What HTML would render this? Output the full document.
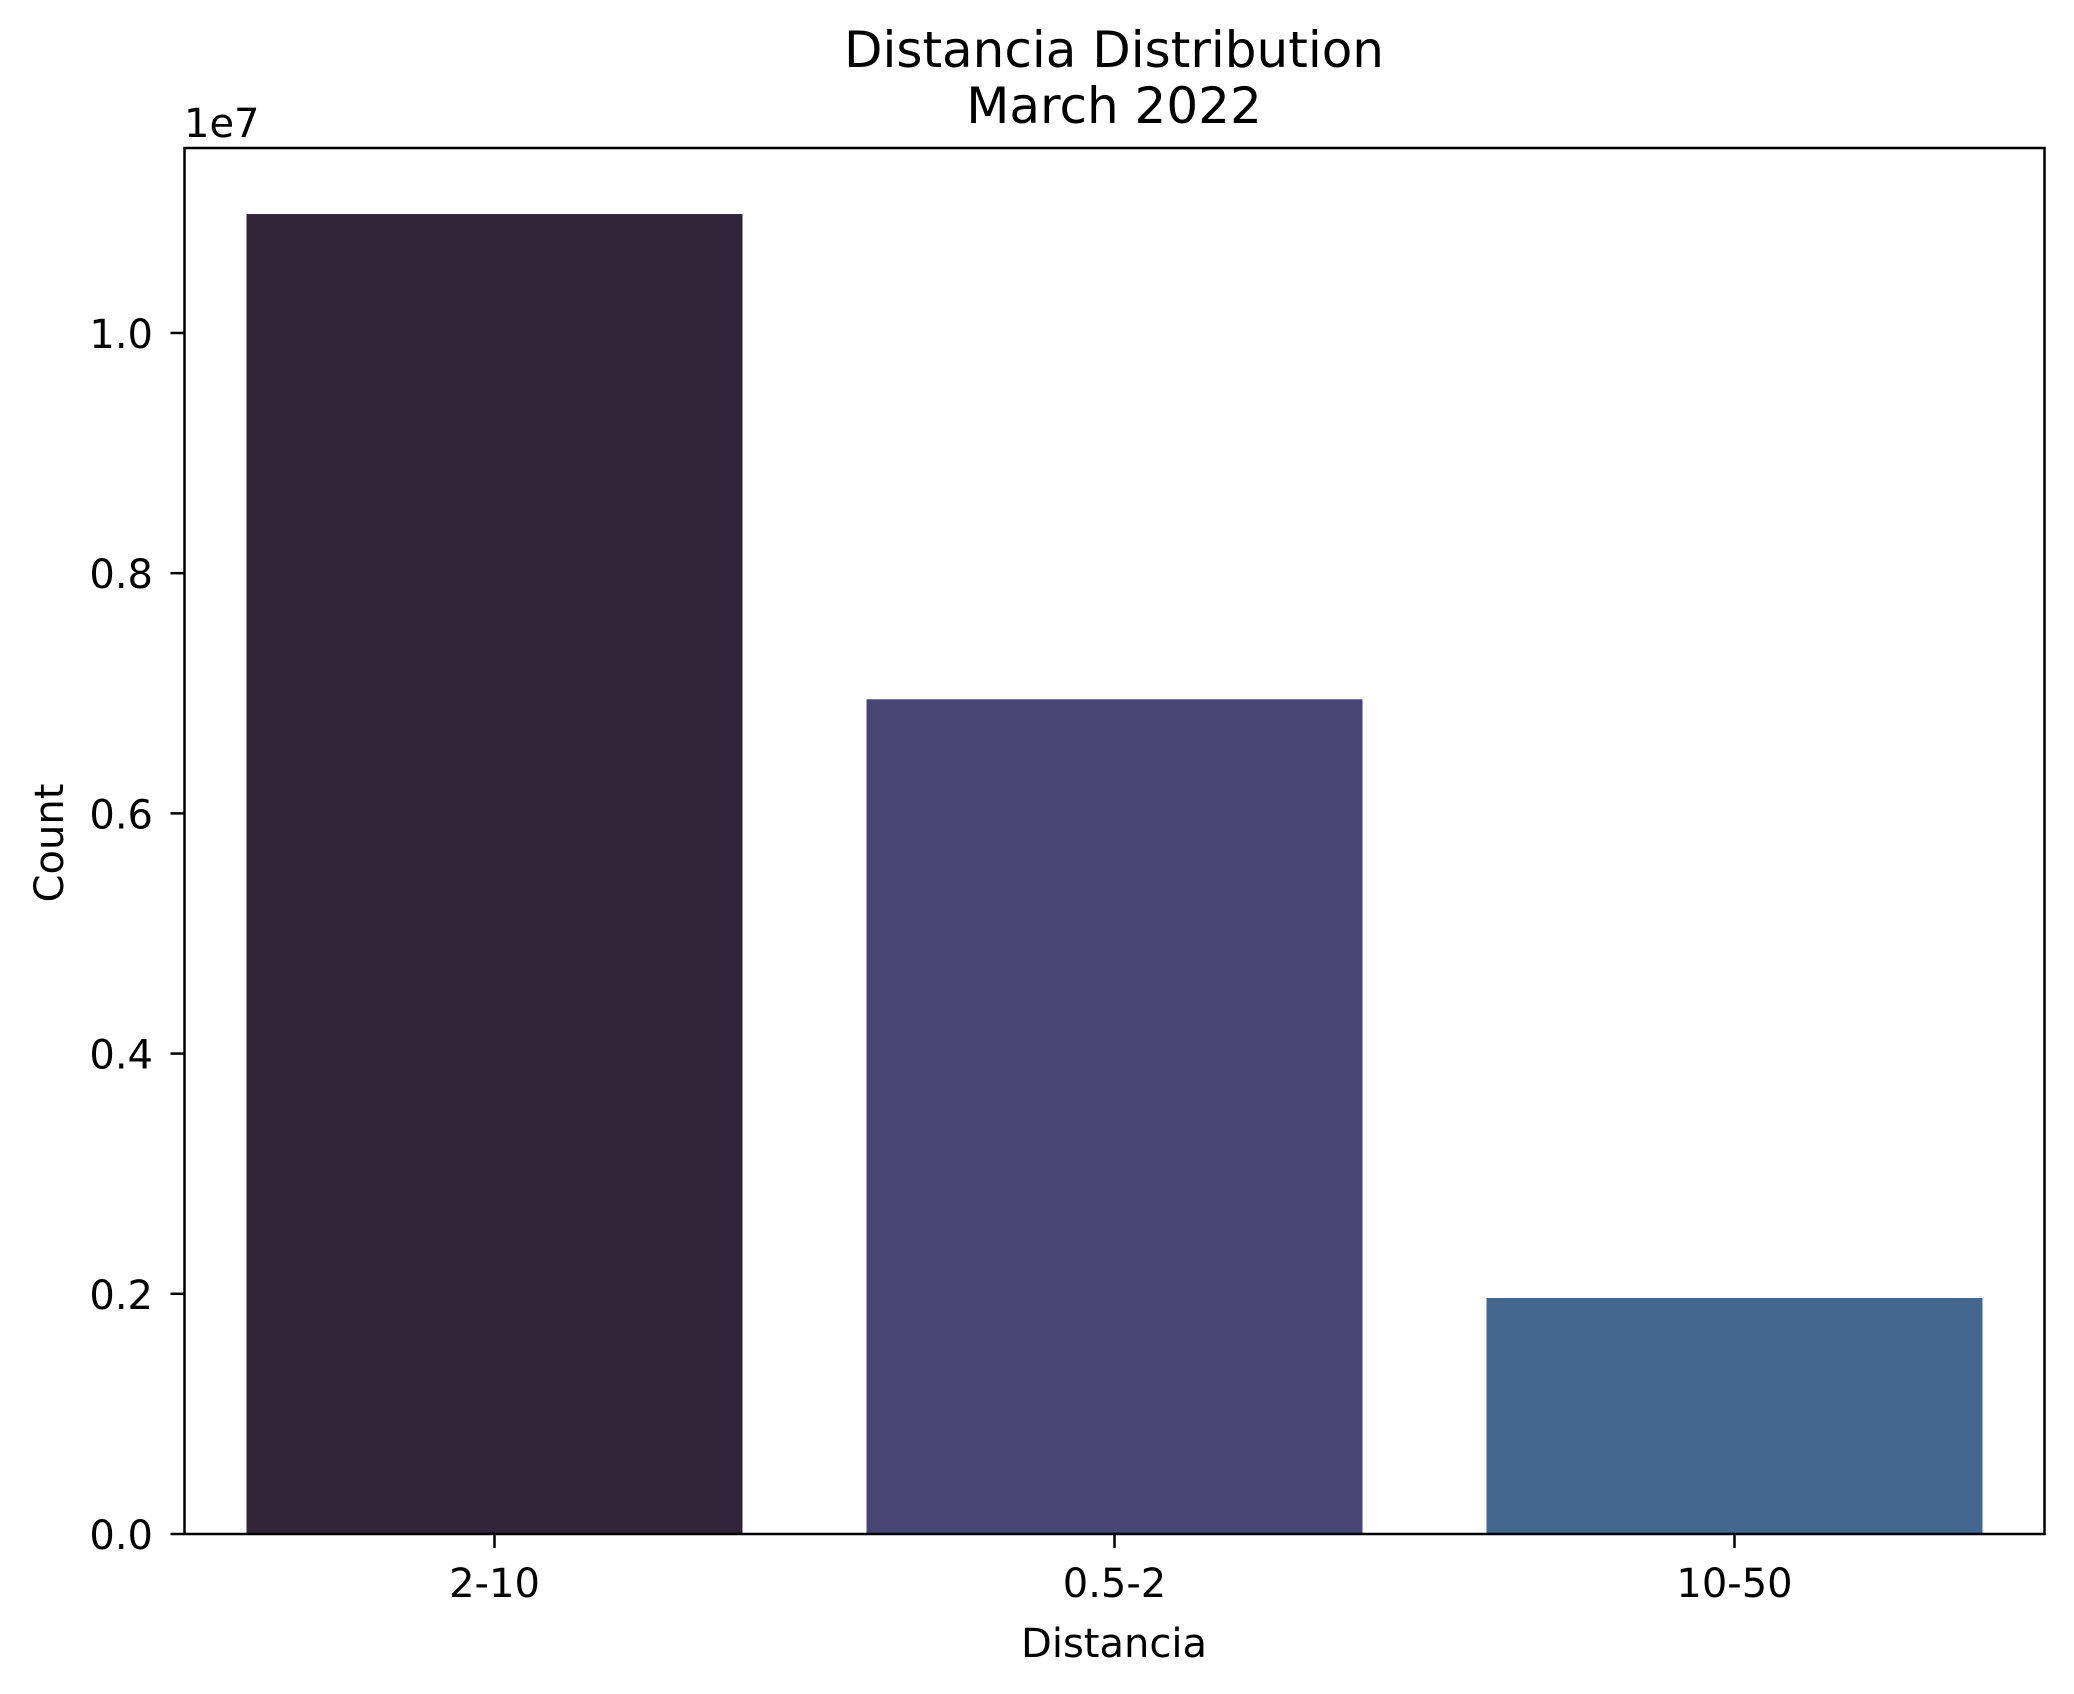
<!DOCTYPE html>
<html><head><meta charset="utf-8"><style>
html,body{margin:0;padding:0;background:#fff}
svg{display:block}
text{font-family:"DejaVu Sans","Liberation Sans",sans-serif;fill:#000}
</style></head><body>
<svg id="chart" width="2074" height="1694" viewBox="0 0 2074 1694" xmlns="http://www.w3.org/2000/svg">
<text x="1114" y="67" font-size="50" text-anchor="middle">Distancia Distribution</text>
<text x="1114" y="123" font-size="50" text-anchor="middle">March 2022</text>
<g id="bars"></g>
<g id="axes"></g>
<text x="184" y="137" font-size="40">1e7</text>
<text x="1114" y="1657" font-size="40" text-anchor="middle">Distancia</text>
<text x="0" y="0" font-size="40" text-anchor="middle" transform="translate(63,843) rotate(-90)">Count</text>
</svg>
<script>
const categories = ["2-10", "0.5-2", "10-50"];
const counts = [10990000, 6950000, 1965000];
const barColors = ["#2f2438", "#474672", "#44678f"];
const yTicks = [0, 0.2e7, 0.4e7, 0.6e7, 0.8e7, 1.0e7];
const yTickLabels = ["0.0", "0.2", "0.4", "0.6", "0.8", "1.0"];

const NS = "http://www.w3.org/2000/svg";
const L = 184.5, R = 2044.5, T = 148, B = 1534;
const yMax = 1.154e7;
const xScale = i => L + (i + 0.5) / categories.length * (R - L);
const band = (R - L) / categories.length;
const yScale = v => B - v / yMax * (B - T);
function mk(tag, attrs){const e=document.createElementNS(NS,tag);for(const k in attrs)e.setAttribute(k,attrs[k]);return e;}
const bars = document.getElementById('bars'), axes = document.getElementById('axes');
categories.forEach((c,i)=>{
  const w = band*0.8, x = xScale(i)-w/2, y = yScale(counts[i]);
  const r = mk('rect',{x:x,y:y,width:w,height:B-y,fill:barColors[i]});
  
  
  bars.appendChild(r);
  const t = mk('line',{x1:xScale(i),x2:xScale(i),y1:B,y2:B+14,stroke:'#000','stroke-width':2.5});
  
  
  axes.appendChild(t);
  const lb = mk('text',{x:xScale(i),y:1597,'font-size':40,'text-anchor':'middle'});
  lb.textContent = c;
  
  
  axes.appendChild(lb);
});
yTicks.forEach((v,i)=>{
  const y = yScale(v);
  const t = mk('line',{x1:L-14,x2:L,y1:y,y2:y,stroke:'#000','stroke-width':2.5});
  
  
  axes.appendChild(t);
  const lb = mk('text',{x:153,y:y+15,'font-size':40,'text-anchor':'end'});
  lb.textContent = yTickLabels[i];
  
  
  axes.appendChild(lb);
});
const frame = mk('rect',{x:L,y:T,width:R-L,height:B-T,fill:'none',stroke:'#000','stroke-width':2.5});


axes.appendChild(frame);
</script>
</body></html>
